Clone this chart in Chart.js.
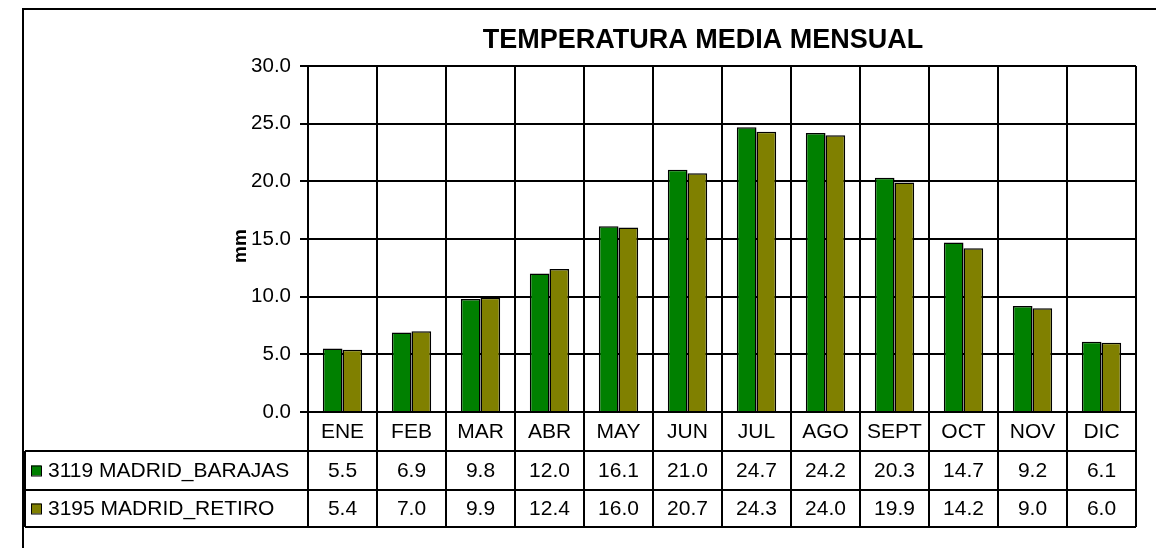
<!DOCTYPE html>
<html>
<head>
<meta charset="utf-8">
<script src="https://cdn.jsdelivr.net/npm/chart.js@4"></script>
<style>
  html, body { margin: 0; padding: 0; background: #fff; }
  #wrap { width: 1156px; height: 548px; position: relative; }
</style>
</head>
<body>
<div id="wrap"><canvas id="tempChart" width="1156" height="548"></canvas></div>
<script>
// datos
const months = ["ENE", "FEB", "MAR", "ABR", "MAY", "JUN", "JUL", "AGO", "SEPT", "OCT", "NOV", "DIC"];
const barajas = [5.5, 6.9, 9.8, 12.0, 16.1, 21.0, 24.7, 24.2, 20.3, 14.7, 9.2, 6.1];
const retiro = [5.4, 7.0, 9.9, 12.4, 16.0, 20.7, 24.3, 24.0, 19.9, 14.2, 9.0, 6.0];
const seriesNames = ["3119 MADRID_BARAJAS", "3195 MADRID_RETIRO"];
const yTicks = [0, 5, 10, 15, 20, 25, 30];

const FONT = "'Liberation Sans', Arial, sans-serif";
const colors = ["#008000", "#808000"];

// tabla de datos + título + marco
const tablePlugin = {
  id: "tablePlugin",
  afterDraw(chart) {
    const ctx = chart.ctx;
    const xs = chart.scales.x;
    const area = chart.chartArea;
    const half = (xs.getPixelForValue(1) - xs.getPixelForValue(0)) / 2;
    const yTop = area.bottom;
    const row0 = yTop + 39, row1 = row0 + 39, row2 = row1 + 37;
    const tableLeft = 25;

    ctx.save();
    // título
    ctx.fillStyle = "#000";
    ctx.font = "bold 27px " + FONT;
    ctx.textAlign = "center";
    ctx.textBaseline = "middle";
    ctx.fillText("TEMPERATURA MEDIA MENSUAL", 703, 41);

    // eje y
    ctx.save();
    ctx.translate(241, 246);
    ctx.rotate(-Math.PI / 2);
    ctx.font = "bold 19px " + FONT;
    ctx.fillText("mm", 0, 0);
    ctx.restore();

    // líneas de la tabla
    ctx.strokeStyle = "#000";
    ctx.lineWidth = 2;
    ctx.beginPath();
    for (let i = 0; i <= months.length; i++) {
      const bx = Math.round(xs.getPixelForValue(i) - half);
      ctx.moveTo(bx, yTop);
      ctx.lineTo(bx, row2);
    }
    [row0, row1, row2].forEach(y => {
      ctx.moveTo(tableLeft, y);
      ctx.lineTo(area.right, y);
    });
    ctx.moveTo(tableLeft, row0);
    ctx.lineTo(tableLeft, row2);
    ctx.stroke();

    // textos
    ctx.font = "21px " + FONT;
    ctx.textAlign = "center";
    months.forEach((m, i) => {
      const cx = xs.getPixelForValue(i);
      ctx.fillText(m, cx, (yTop + row0) / 2 + 1);
      ctx.fillText(barajas[i].toFixed(1), cx, (row0 + row1) / 2 + 1);
      ctx.fillText(retiro[i].toFixed(1), cx, (row1 + row2) / 2 + 1);
    });

    // leyenda
    const rowsMid = [(row0 + row1) / 2, (row1 + row2) / 2];
    ctx.textAlign = "left";
    seriesNames.forEach((name, k) => {
      const cy = rowsMid[k];
      ctx.fillStyle = colors[k];
      ctx.fillRect(31, cy - 5, 10, 10);
      ctx.lineWidth = 1;
      ctx.strokeRect(31.5, cy - 4.5, 10, 10);
      ctx.fillStyle = "#000";
      ctx.fillText(name, 48, cy + 1);
    });

    // marco exterior
    ctx.lineWidth = 2;
    ctx.strokeRect(23, 9, 1200, 600);
    ctx.restore();
  }
};

const ctx = document.getElementById("tempChart").getContext("2d");
new Chart(ctx, {
  type: "bar",
  data: {
    labels: months,
    datasets: [
      { label: seriesNames[0], data: barajas, backgroundColor: colors[0], borderColor: "#000", borderWidth: 1.5 },
      { label: seriesNames[1], data: retiro, backgroundColor: colors[1], borderColor: "#000", borderWidth: 1.5 }
    ]
  },
  options: {
    responsive: false,
    animation: false,
    events: [],
    layout: { padding: { left: 0, top: 66, right: 20, bottom: 0 } },
    datasets: { bar: { categoryPercentage: 0.57, barPercentage: 1.0 } },
    scales: {
      x: {
        offset: true,
        grid: { color: "#000", lineWidth: 2, offset: true, drawTicks: false },
        border: { color: "#000", width: 2 },
        ticks: { display: false },
        afterFit(scale) { scale.height = 136; }
      },
      y: {
        min: 0,
        max: 30,
        afterBuildTicks(scale) { scale.ticks = yTicks.map(v => ({ value: v })); },
        grid: { color: "#000", lineWidth: 2, tickLength: 8, tickColor: "#000" },
        border: { color: "#000", width: 2 },
        ticks: {
          color: "#000",
          padding: 9,
          font: { size: 20.5, family: FONT },
          callback: v => Number(v).toFixed(1)
        },
        afterFit(scale) { scale.width = 308; }
      }
    },
    plugins: {
      legend: { display: false },
      tooltip: { enabled: false },
      title: { display: false }
    }
  },
  plugins: [tablePlugin]
});
</script>
</body>
</html>
